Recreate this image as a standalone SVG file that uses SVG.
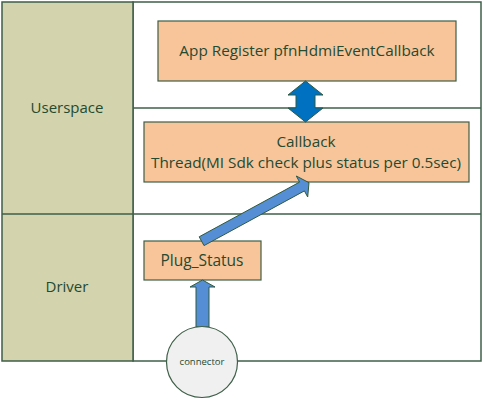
<svg xmlns="http://www.w3.org/2000/svg" width="485" height="401" viewBox="0 0 485 401">
<style>
.frame{fill:none;stroke:#3e5f48;stroke-width:1.5}
.lane{fill:#d3d3ad;stroke:#3e5f48;stroke-width:1.5}
.box{fill:#f8c59b;stroke:#3e5f48;stroke-width:1.2}
.t{font-family:"Open Sans","Noto Sans",sans-serif;fill:#244a30;text-anchor:middle}
.arr{fill:#558ed5;stroke:#2f5a3c;stroke-width:1}
.darr{fill:#0070c0;stroke:#2f5a3c;stroke-width:1}
</style>
<rect x="0" y="0" width="485" height="401" fill="#ffffff"/>
<g id="lanes">
<rect class="frame" x="133" y="2" width="348" height="359"/>
<rect class="lane" x="2" y="2" width="131" height="359"/>
<line class="frame" x1="133" y1="108" x2="481" y2="108"/>
<line class="frame" x1="2" y1="214" x2="481" y2="214"/>
<text class="t" x="67" y="113" font-size="15">Userspace</text>
<text class="t" x="67" y="292" font-size="15">Driver</text>
</g>
<g id="app">
<rect class="box" x="158" y="21" width="298" height="60"/>
<text class="t" x="307" y="56" font-size="15.3">App Register pfnHdmiEventCallback</text>
</g>
<g id="callback">
<rect class="box" x="144" y="122" width="325" height="60"/>
<text class="t" x="306" y="147" font-size="15.3">Callback</text>
<text class="t" x="306" y="168" font-size="15.3">Thread(MI Sdk check plus status per 0.5sec)</text>
</g>
<g id="plug">
<rect class="box" x="144" y="241" width="117" height="39"/>
<text class="t" x="202" y="266" font-size="15.5">Plug_Status</text>
</g>
<g id="connectors">
<polygon class="darr" points="305.5,81 323,95 315,95 315,108 323,108 305.5,122 288,108 296,108 296,95 288,95"/>
<polygon class="arr" points="199.2,236.8 299.6,182.1 296.3,176 309,182.7 307.7,197 304.4,190.9 204,245.6"/>
<polygon class="arr" points="202.5,280 215,287 209,287 209,327 196,327 196,287 190,287"/>
</g>
<g id="connector">
<circle cx="202" cy="362" r="35.5" fill="#f0f0f0" stroke="#3e5f48" stroke-width="1.2"/>
<text class="t" x="202" y="365" font-size="9.5">connector</text>
</g>
</svg>
